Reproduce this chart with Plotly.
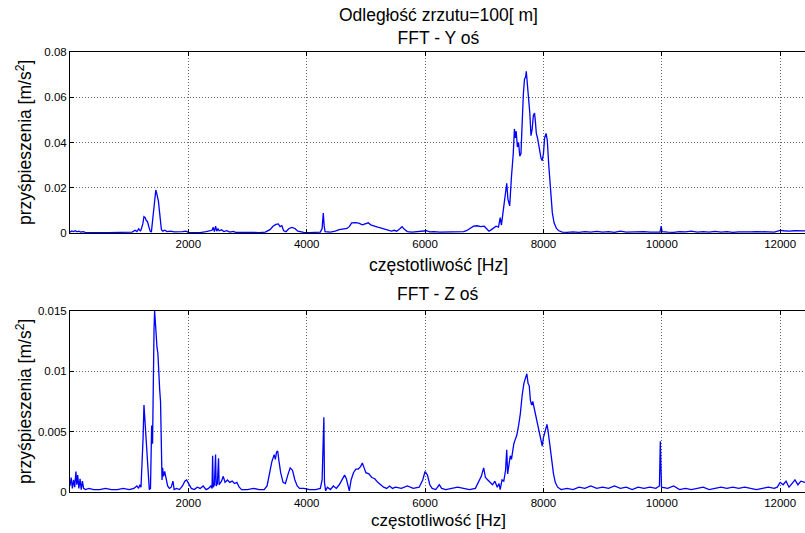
import plotly.graph_objects as go

# ---- data (frequency [Hz], acceleration [m/s^2]) ----
spectrum_y = [
    (0, 0.0004), (30, 0.0009), (60, 0.0006), (90, 0.0010), (120, 0.0005), (150, 0.0008),
    (180, 0.0004), (220, 0.0006), (260, 0.0003), (350, 0.0002), (450, 0.0003), (550, 0.0002),
    (650, 0.0002), (750, 0.0003), (850, 0.0002), (950, 0.0003), (1050, 0.0004), (1100, 0.0012),
    (1130, 0.0006), (1160, 0.0018), (1190, 0.0008), (1210, 0.0022), (1230, 0.0040), (1250, 0.0072),
    (1270, 0.0068), (1290, 0.0055), (1310, 0.0050), (1330, 0.0030), (1355, 0.0008), (1375, 0.0004),
    (1395, 0.0050), (1415, 0.0120), (1435, 0.0170), (1450, 0.0190), (1465, 0.0175), (1480, 0.0160),
    (1495, 0.0140), (1510, 0.0100), (1525, 0.0050), (1545, 0.0015), (1570, 0.0008), (1600, 0.0012),
    (1640, 0.0006), (1700, 0.0008), (1760, 0.0005), (1830, 0.0004), (1900, 0.0006), (1960, 0.0008),
    (2000, 0.0003), (2100, 0.0002), (2200, 0.0002), (2300, 0.0006), (2350, 0.0010), (2400, 0.0012),
    (2420, 0.0025), (2440, 0.0006), (2460, 0.0030), (2480, 0.0008), (2500, 0.0020), (2520, 0.0010),
    (2560, 0.0014), (2600, 0.0006), (2650, 0.0010), (2700, 0.0004), (2760, 0.0007), (2800, 0.0003),
    (2900, 0.0003), (3000, 0.0002), (3100, 0.0003), (3200, 0.0002), (3300, 0.0004), (3380, 0.0015),
    (3430, 0.0030), (3480, 0.0038), (3520, 0.0040), (3550, 0.0028), (3580, 0.0032), (3610, 0.0010),
    (3650, 0.0006), (3700, 0.0020), (3750, 0.0025), (3800, 0.0020), (3850, 0.0008), (3900, 0.0005),
    (3950, 0.0003), (4050, 0.0002), (4150, 0.0003), (4230, 0.0004), (4260, 0.0020), (4280, 0.0088),
    (4295, 0.0030), (4310, 0.0006), (4400, 0.0004), (4480, 0.0008), (4550, 0.0015), (4620, 0.0018),
    (4680, 0.0020), (4720, 0.0028), (4760, 0.0045), (4820, 0.0046), (4880, 0.0044), (4940, 0.0036),
    (4980, 0.0040), (5040, 0.0045), (5080, 0.0036), (5140, 0.0030), (5200, 0.0026), (5260, 0.0022),
    (5320, 0.0016), (5380, 0.0010), (5430, 0.0008), (5480, 0.0012), (5520, 0.0008), (5570, 0.0018),
    (5610, 0.0028), (5650, 0.0016), (5700, 0.0006), (5780, 0.0004), (5860, 0.0005), (5950, 0.0006),
    (6020, 0.0010), (6080, 0.0005), (6150, 0.0006), (6250, 0.0004), (6350, 0.0005), (6450, 0.0004),
    (6550, 0.0006), (6650, 0.0006), (6700, 0.0010), (6760, 0.0022), (6820, 0.0030), (6880, 0.0032),
    (6940, 0.0028), (7000, 0.0030), (7040, 0.0018), (7080, 0.0008), (7120, 0.0015), (7160, 0.0024),
    (7200, 0.0030), (7240, 0.0026), (7270, 0.0068), (7290, 0.0035), (7320, 0.0090), (7350, 0.0150),
    (7380, 0.0220), (7400, 0.0150), (7430, 0.0120), (7460, 0.0250), (7490, 0.0350), (7510, 0.0460),
    (7525, 0.0420), (7540, 0.0450), (7560, 0.0380), (7580, 0.0400), (7600, 0.0340), (7620, 0.0350),
    (7640, 0.0500), (7660, 0.0610), (7680, 0.0680), (7700, 0.0690), (7710, 0.0715), (7730, 0.0660),
    (7750, 0.0600), (7770, 0.0530), (7790, 0.0430), (7810, 0.0460), (7830, 0.0520), (7850, 0.0530),
    (7865, 0.0490), (7880, 0.0440), (7900, 0.0420), (7920, 0.0380), (7940, 0.0360), (7960, 0.0330),
    (7980, 0.0320), (8000, 0.0350), (8020, 0.0420), (8045, 0.0440), (8065, 0.0410), (8090, 0.0300),
    (8120, 0.0180), (8150, 0.0090), (8180, 0.0045), (8220, 0.0020), (8260, 0.0010), (8320, 0.0004),
    (8400, 0.0003), (8500, 0.0005), (8600, 0.0003), (8700, 0.0006), (8800, 0.0004), (8900, 0.0007),
    (9000, 0.0004), (9100, 0.0006), (9200, 0.0003), (9300, 0.0008), (9400, 0.0004), (9500, 0.0005),
    (9600, 0.0003), (9700, 0.0006), (9800, 0.0004), (9900, 0.0005), (9970, 0.0004), (9990, 0.0030),
    (10005, 0.0006), (10100, 0.0004), (10200, 0.0003), (10300, 0.0006), (10400, 0.0005), (10500, 0.0008),
    (10600, 0.0004), (10700, 0.0006), (10800, 0.0004), (10900, 0.0007), (11000, 0.0004), (11100, 0.0006),
    (11200, 0.0003), (11300, 0.0005), (11400, 0.0004), (11500, 0.0005), (11600, 0.0006), (11700, 0.0004),
    (11800, 0.0005), (11900, 0.0004), (11960, 0.0008), (12000, 0.0012), (12060, 0.0010), (12150, 0.0008),
    (12250, 0.0010), (12350, 0.0011), (12420, 0.0009),
]

spectrum_z = [
    (0, 0.0005), (20, 0.0012), (40, 0.0003), (60, 0.0010), (80, 0.0004), (100, 0.0017),
    (115, 0.0006), (130, 0.0014), (150, 0.0003), (170, 0.0011), (190, 0.0002), (210, 0.0009),
    (230, 0.0003), (260, 0.0002), (320, 0.0003), (400, 0.0002), (500, 0.0002), (600, 0.0003),
    (700, 0.0002), (800, 0.0002), (900, 0.0003), (1000, 0.0002), (1080, 0.0003), (1130, 0.0005),
    (1160, 0.0003), (1180, 0.0006), (1200, 0.0004), (1215, 0.0020), (1235, 0.0045), (1250, 0.0072),
    (1265, 0.0060), (1280, 0.0040), (1300, 0.0025), (1320, 0.0010), (1340, 0.0002), (1360, 0.0003),
    (1380, 0.0055), (1395, 0.0040), (1405, 0.0100), (1420, 0.0135), (1430, 0.0150), (1440, 0.0140),
    (1455, 0.0132), (1470, 0.0120), (1485, 0.0115), (1500, 0.0095), (1515, 0.0085), (1530, 0.0075),
    (1545, 0.0040), (1555, 0.0010), (1565, 0.0020), (1580, 0.0013), (1600, 0.0017), (1620, 0.0012),
    (1650, 0.0005), (1680, 0.0003), (1710, 0.0004), (1740, 0.0009), (1760, 0.0002), (1800, 0.0003),
    (1850, 0.0002), (1900, 0.0005), (1940, 0.0009), (1970, 0.0010), (2010, 0.0007), (2050, 0.0003),
    (2100, 0.0002), (2150, 0.0004), (2200, 0.0003), (2250, 0.0005), (2300, 0.0002), (2340, 0.0003),
    (2380, 0.0005), (2400, 0.0003), (2410, 0.0030), (2420, 0.0004), (2440, 0.0006), (2460, 0.0031),
    (2470, 0.0005), (2490, 0.0007), (2510, 0.0028), (2520, 0.0006), (2560, 0.0009), (2590, 0.0013),
    (2620, 0.0008), (2660, 0.0010), (2700, 0.0008), (2740, 0.0009), (2780, 0.0007), (2820, 0.0008),
    (2860, 0.0004), (2900, 0.0002), (3000, 0.0002), (3100, 0.0003), (3200, 0.0002), (3280, 0.0002),
    (3330, 0.0005), (3370, 0.0014), (3410, 0.0025), (3450, 0.0031), (3470, 0.0027), (3490, 0.0033),
    (3510, 0.0034), (3530, 0.0026), (3560, 0.0016), (3600, 0.0008), (3640, 0.0007), (3680, 0.0014),
    (3720, 0.0020), (3760, 0.0018), (3800, 0.0010), (3840, 0.0005), (3880, 0.0003), (3950, 0.0003),
    (4050, 0.0002), (4150, 0.0002), (4230, 0.0003), (4260, 0.0010), (4280, 0.0040), (4290, 0.0062),
    (4300, 0.0008), (4320, 0.0001), (4350, 0.0004), (4400, 0.0002), (4450, 0.0005), (4500, 0.0003),
    (4550, 0.0006), (4600, 0.0010), (4640, 0.0014), (4670, 0.0011), (4700, 0.0004), (4720, 0.0001),
    (4750, 0.0010), (4790, 0.0016), (4830, 0.0019), (4870, 0.0019), (4910, 0.0021), (4940, 0.0024),
    (4970, 0.0020), (5000, 0.0016), (5050, 0.0015), (5100, 0.0012), (5150, 0.0011), (5200, 0.0008),
    (5250, 0.0006), (5300, 0.0004), (5350, 0.0003), (5400, 0.0005), (5450, 0.0003), (5500, 0.0004),
    (5600, 0.0003), (5700, 0.0005), (5800, 0.0003), (5900, 0.0004), (5960, 0.0010), (6000, 0.0017),
    (6040, 0.0014), (6080, 0.0006), (6120, 0.0003), (6180, 0.0002), (6240, 0.0006), (6280, 0.0003),
    (6350, 0.0002), (6450, 0.0003), (6550, 0.0004), (6650, 0.0003), (6750, 0.0002), (6850, 0.0003),
    (6900, 0.0008), (6950, 0.0013), (6990, 0.0020), (7020, 0.0012), (7060, 0.0010), (7100, 0.0008),
    (7140, 0.0006), (7180, 0.0009), (7220, 0.0004), (7250, 0.0007), (7270, 0.0002), (7300, 0.0010),
    (7330, 0.0009), (7360, 0.0018), (7380, 0.0035), (7395, 0.0015), (7420, 0.0022), (7440, 0.0030),
    (7460, 0.0027), (7480, 0.0036), (7500, 0.0040), (7520, 0.0043), (7550, 0.0047), (7580, 0.0055),
    (7610, 0.0065), (7640, 0.0080), (7670, 0.0090), (7700, 0.0095), (7720, 0.0098), (7740, 0.0090),
    (7760, 0.0088), (7780, 0.0076), (7800, 0.0072), (7820, 0.0075), (7840, 0.0070), (7870, 0.0063),
    (7900, 0.0055), (7930, 0.0048), (7960, 0.0042), (7980, 0.0038), (8000, 0.0045), (8030, 0.0050),
    (8060, 0.0056), (8080, 0.0050), (8110, 0.0038), (8140, 0.0025), (8170, 0.0015), (8200, 0.0008),
    (8240, 0.0004), (8300, 0.0002), (8400, 0.0003), (8500, 0.0002), (8600, 0.0004), (8700, 0.0003),
    (8800, 0.0005), (8900, 0.0003), (9000, 0.0004), (9100, 0.0003), (9200, 0.0005), (9300, 0.0003),
    (9400, 0.0004), (9500, 0.0002), (9600, 0.0004), (9700, 0.0003), (9800, 0.0004), (9900, 0.0003),
    (9960, 0.0005), (9975, 0.0042), (9985, 0.0025), (9995, 0.0004), (10100, 0.0003), (10200, 0.0005),
    (10300, 0.0002), (10400, 0.0003), (10500, 0.0002), (10600, 0.0003), (10700, 0.0004), (10800, 0.0002),
    (10900, 0.0003), (11000, 0.0004), (11100, 0.0003), (11200, 0.0004), (11300, 0.0003), (11400, 0.0004),
    (11500, 0.0003), (11600, 0.0002), (11700, 0.0003), (11800, 0.0004), (11900, 0.0003), (11950, 0.0004),
    (12000, 0.0008), (12050, 0.0006), (12100, 0.0009), (12150, 0.0004), (12200, 0.0007), (12250, 0.0010),
    (12300, 0.0006), (12350, 0.0009), (12420, 0.0008),
]

freq_y = [p[0] for p in spectrum_y]
acc_y = [p[1] for p in spectrum_y]
freq_z = [p[0] for p in spectrum_z]
acc_z = [p[1] for p in spectrum_z]

x_ticks = [2000, 4000, 6000, 8000, 10000, 12000]
x_ticks_text = ["2000", "4000", "6000", "8000", "10000", "12000"]
y_ticks_top = [0, 0.02, 0.04, 0.06, 0.08]
y_ticks_top_text = ["0", "0.02", "0.04", "0.06", "0.08"]
y_ticks_bot = [0, 0.005, 0.01, 0.015]
y_ticks_bot_text = ["0", "0.005", "0.01", "0.015"]

main_title = "Odległość zrzutu=100[ m]"
title_top = "FFT - Y oś"
title_bot = "FFT - Z oś"
x_label = "częstotliwość [Hz]"
y_label = "przyśpieszenia [m/s<sup>2</sup>]"

# ---- figure ----
W, H = 805, 533
L, R = 70, 0
FONT = "Arial, Liberation Sans, sans-serif"

def py(px):  # pixel row -> paper y
    return 1 - px / H

def px_x(px):  # pixel column -> paper x
    return (px - L) / (W - L - R)

fig = go.Figure()
fig.add_trace(go.Scatter(x=freq_y, y=acc_y, mode="lines", line=dict(color="#0000ff", width=1.3),
                         xaxis="x", yaxis="y", showlegend=False))
fig.add_trace(go.Scatter(x=freq_z, y=acc_z, mode="lines", line=dict(color="#0000ff", width=1.3),
                         xaxis="x2", yaxis="y2", showlegend=False))

GRID = dict(showgrid=True, gridcolor="rgba(0,0,0,0.6)", griddash="1px,2px", gridwidth=1)
TICKFONT = dict(family=FONT, size=11.5, color="black")
xcommon = dict(range=[0, 12420], tickvals=x_ticks, ticktext=x_ticks_text,
               ticks="inside", ticklen=4, tickcolor="black",
               showline=True, linecolor="black", linewidth=1, mirror="ticks",
               zeroline=False, tickfont=TICKFONT, **GRID)
ycommon = dict(ticks="inside", ticklen=4, tickcolor="black",
               showline=True, linecolor="black", linewidth=1, mirror=False,
               zeroline=False, tickfont=TICKFONT, **GRID)

fig.update_layout(
    width=W, height=H,
    margin=dict(l=L, r=R, t=0, b=0, autoexpand=False),
    paper_bgcolor="white", plot_bgcolor="white",
    xaxis=dict(domain=[0, 1], anchor="y", **xcommon),
    yaxis=dict(domain=[py(233), py(52)], anchor="x", range=[0, 0.08],
               tickvals=y_ticks_top, ticktext=y_ticks_top_text, **ycommon),
    xaxis2=dict(domain=[0, 1], anchor="y2", **xcommon),
    yaxis2=dict(domain=[py(492), py(311)], anchor="x2", range=[0, 0.015],
                tickvals=y_ticks_bot, ticktext=y_ticks_bot_text, **ycommon),
)

def ann(text, x, y, size, angle=0):
    fig.add_annotation(text=text, xref="paper", yref="paper", x=px_x(x), y=py(y),
                       xanchor="center", yanchor="middle", showarrow=False, textangle=angle,
                       font=dict(family=FONT, size=size, color="black"))

ann(main_title + "<br>" + title_top, 438.5, 26, 17.5)
ann(x_label, 438, 265, 17.5)
ann(title_bot, 438, 294, 17.5)
ann(x_label, 438, 520.5, 17)
ann(y_label, 24, 142, 17.5, -90)
ann(y_label, 24, 401, 17.5, -90)

fig.write_html("out.html", config={"displayModeBar": False},
               post_script="document.body.style.margin='0';document.body.style.overflow='hidden';")
